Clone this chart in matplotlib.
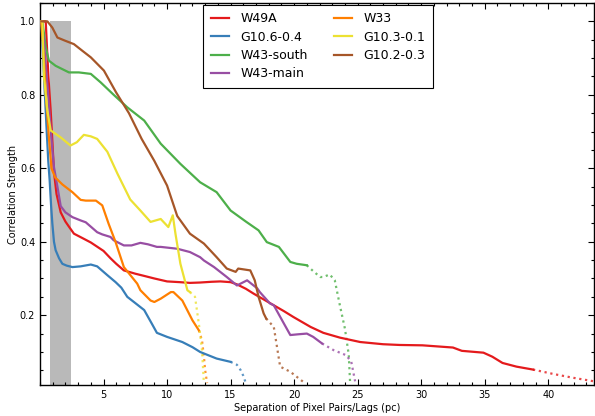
import matplotlib
matplotlib.use("Agg")
import matplotlib.pyplot as plt
from matplotlib.ticker import MultipleLocator, AutoMinorLocator

# ---------------- data ----------------
names = ["W49A", "G10.6-0.4", "W43-south", "W43-main", "W33", "G10.3-0.1", "G10.2-0.3"]
colors = ["#e41a1c", "#377eb8", "#4daf4a", "#984ea3", "#ff7f00", "#ece132", "#a65628"]

w49a_x = [0.1, 0.45, 0.66, 0.84, 0.97, 1.1, 1.3, 1.63, 2.0, 2.3, 2.67, 3.45, 4.0, 5.0, 5.55, 6.0, 6.6, 7.5, 8.2,
          9.0, 10.0, 11.0, 11.8, 12.6, 13.5, 14.2, 15.0, 15.5, 16.2, 16.8, 17.6, 18.4, 19.2, 19.95, 20.7, 21.3,
          22.3, 23.6, 25.2, 27.0, 28.3, 30.1, 32.5, 33.2, 34.9, 35.6, 36.4, 37.5, 38.8]
w49a_y = [1.0, 1.0, 0.85, 0.757, 0.675, 0.59, 0.53, 0.48, 0.455, 0.44, 0.422, 0.408, 0.398, 0.375, 0.355, 0.34,
          0.322, 0.313, 0.307, 0.3, 0.292, 0.29, 0.288, 0.289, 0.291, 0.292, 0.29, 0.284, 0.272, 0.259, 0.243,
          0.227, 0.211, 0.195, 0.18, 0.168, 0.152, 0.139, 0.127, 0.121, 0.119, 0.118, 0.112, 0.103, 0.098, 0.087,
          0.070, 0.060, 0.052]
w49a_dx = [38.8, 40.4, 41.9, 43.6]
w49a_dy = [0.052, 0.040, 0.030, 0.020]

g106_x = [0.1, 0.3, 0.5, 0.65, 0.76, 0.87, 0.97, 1.1, 1.23, 1.5, 1.76, 2.1, 2.55, 3.2, 4.0, 4.5, 5.3, 5.95, 6.4,
          6.87, 7.5, 8.2, 8.8, 9.2, 10.0, 11.2, 12.0, 12.6, 13.9, 15.0]
g106_y = [1.0, 0.86, 0.72, 0.62, 0.567, 0.5, 0.45, 0.4, 0.377, 0.355, 0.34, 0.335, 0.331, 0.333, 0.338, 0.333,
          0.309, 0.29, 0.275, 0.25, 0.233, 0.214, 0.177, 0.152, 0.141, 0.127, 0.113, 0.10, 0.082, 0.073]
g106_dx = [15.0, 15.5, 15.8, 16.0, 16.2]
g106_dy = [0.073, 0.065, 0.05, 0.035, 0.015]

w43s_x = [0.1, 0.19, 0.45, 0.7, 1.23, 2.28, 3.06, 4.0, 4.77, 5.8, 6.87, 8.2, 9.5, 11.05, 12.6, 13.9, 15.0, 16.2,
          17.2, 17.85, 18.8, 19.7, 20.2, 21.0]
w43s_y = [1.0, 1.0, 0.93, 0.893, 0.879, 0.861, 0.861, 0.857, 0.834, 0.80, 0.766, 0.73, 0.667, 0.612, 0.562,
          0.535, 0.485, 0.455, 0.431, 0.399, 0.386, 0.345, 0.340, 0.336]
w43s_dx = [21.0, 21.5, 22.05, 22.3, 22.8, 23.2, 23.6, 24.0, 24.3, 24.4]
w43s_dy = [0.336, 0.32, 0.304, 0.304, 0.311, 0.295, 0.227, 0.163, 0.092, 0.02]

w43m_x = [0.1, 0.3, 0.6, 0.9, 1.1, 1.37, 1.63, 2.0, 2.55, 3.2, 3.6, 4.5, 4.9, 5.55, 5.8, 6.6, 7.2, 7.9, 8.5, 9.2,
          9.5, 10.8, 11.8, 12.6, 12.9, 13.7, 14.7, 15.5, 16.3, 17.1, 17.3, 18.1, 18.4, 19.2, 19.7, 20.3, 21.0,
          21.5, 22.2]
w43m_y = [1.0, 0.95, 0.82, 0.68, 0.603, 0.55, 0.497, 0.48, 0.467, 0.458, 0.453, 0.426, 0.42, 0.413, 0.404, 0.39,
          0.39, 0.397, 0.393, 0.386, 0.386, 0.381, 0.372, 0.358, 0.349, 0.331, 0.304, 0.281, 0.295, 0.273, 0.263,
          0.232, 0.227, 0.177, 0.146, 0.148, 0.150, 0.141, 0.123]
w43m_dx = [22.2, 23.1, 24.1, 24.5, 24.8]
w43m_dy = [0.123, 0.105, 0.091, 0.073, 0.02]

w33_x = [0.1, 0.3, 0.5, 0.71, 0.9, 1.2, 1.76, 2.55, 3.2, 3.6, 4.4, 4.9, 5.4, 5.95, 6.6, 7.65, 7.9, 8.7, 9.0, 9.5,
         10.3, 10.5, 11.2, 12.0, 12.5]
w33_y = [1.0, 0.9, 0.78, 0.68, 0.6, 0.575, 0.556, 0.535, 0.514, 0.512, 0.512, 0.499, 0.449, 0.399, 0.331, 0.286,
         0.268, 0.24, 0.236, 0.245, 0.263, 0.263, 0.24, 0.186, 0.159]
w33_dx = [12.5, 12.75, 12.9, 13.0, 13.15]
w33_dy = [0.159, 0.132, 0.087, 0.05, 0.015]

g103_x = [0.1, 0.19, 0.31, 0.58, 0.84, 1.63, 2.4, 2.9, 3.45, 4.0, 4.5, 5.3, 6.1, 7.1, 7.9, 8.7, 9.5, 10.1, 10.45,
          10.66, 11.05, 11.6, 11.8]
g103_y = [1.0, 1.0, 0.85, 0.757, 0.703, 0.684, 0.662, 0.671, 0.691, 0.687, 0.68, 0.645, 0.585, 0.515, 0.485,
          0.454, 0.462, 0.44, 0.472, 0.422, 0.34, 0.268, 0.263]
g103_dx = [11.8, 12.2, 12.5, 12.75, 12.9]
g103_dy = [0.263, 0.25, 0.177, 0.105, 0.014]

g102_x = [0.1, 0.58, 0.97, 1.37, 2.0, 2.67, 3.33, 4.0, 5.03, 6.0, 7.0, 8.0, 9.0, 10.0, 10.8, 11.8, 12.9, 13.9,
          14.7, 15.4, 15.6, 16.55, 16.9, 17.2, 17.6, 17.8]
g102_y = [1.0, 1.0, 0.983, 0.956, 0.947, 0.938, 0.92, 0.902, 0.866, 0.806, 0.75, 0.68, 0.62, 0.553, 0.47, 0.422,
          0.395, 0.358, 0.327, 0.318, 0.327, 0.322, 0.295, 0.25, 0.205, 0.191]
g102_dx = [17.8, 18.4, 18.65, 18.9, 19.7, 20.7]
g102_dy = [0.191, 0.168, 0.114, 0.06, 0.046, 0.019]

solid = [(w49a_x, w49a_y), (g106_x, g106_y), (w43s_x, w43s_y), (w43m_x, w43m_y),
         (w33_x, w33_y), (g103_x, g103_y), (g102_x, g102_y)]
dotted = [(w49a_dx, w49a_dy), (g106_dx, g106_dy), (w43s_dx, w43s_dy), (w43m_dx, w43m_dy),
          (w33_dx, w33_dy), (g103_dx, g103_dy), (g102_dx, g102_dy)]

band = (0.76, 2.45)

# ---------------- figure ----------------
fig = plt.figure(figsize=(5.95, 4.16), dpi=100)
ax = fig.add_axes([40 / 595, 1 - 385 / 416, 554 / 595, 382 / 416])

ax.fill_between(band, [0.0, 0.0], [1.0, 1.0], color="#b9b9b9", lw=0, zorder=1)

for (sx, sy), (dx, dy), c, n in zip(solid, dotted, colors, names):
    ax.plot(sx, sy, color=c, lw=1.6, label=n, zorder=3, solid_joinstyle="round")
    ax.plot(dx, dy, color=c, lw=1.6, ls=":", alpha=0.8, zorder=2)

ax.set_xlim(0, 43.6)
ax.set_ylim(0.01, 1.05)
ax.xaxis.set_minor_locator(AutoMinorLocator(5))
ax.yaxis.set_minor_locator(AutoMinorLocator(4))
ax.set_xticks([5, 10, 15, 20, 25, 30, 35, 40])
ax.set_yticks([0.2, 0.4, 0.6, 0.8, 1.0])
ax.tick_params(which="both", direction="in", top=True, right=True, labelsize=7, width=0.8)
ax.tick_params(which="major", length=4)
ax.tick_params(which="minor", length=2)
for s in ax.spines.values():
    s.set_linewidth(1.0)

ax.set_xlabel("Separation of Pixel Pairs/Lags (pc)", fontsize=7, labelpad=2)
ax.set_ylabel("Correlation Strength", fontsize=7, labelpad=1)

leg = ax.legend(ncol=2, loc="upper center", bbox_to_anchor=(318 / 595, 1 - 5 / 416),
                bbox_transform=fig.transFigure, borderaxespad=0, fontsize=9, frameon=True,
                fancybox=False, edgecolor="black", framealpha=1, handlelength=1.45,
                handletextpad=0.9, columnspacing=2.1, labelspacing=0.42, borderpad=0.6)
leg.get_frame().set_linewidth(0.8)

fig.savefig("out.png", dpi=100)
